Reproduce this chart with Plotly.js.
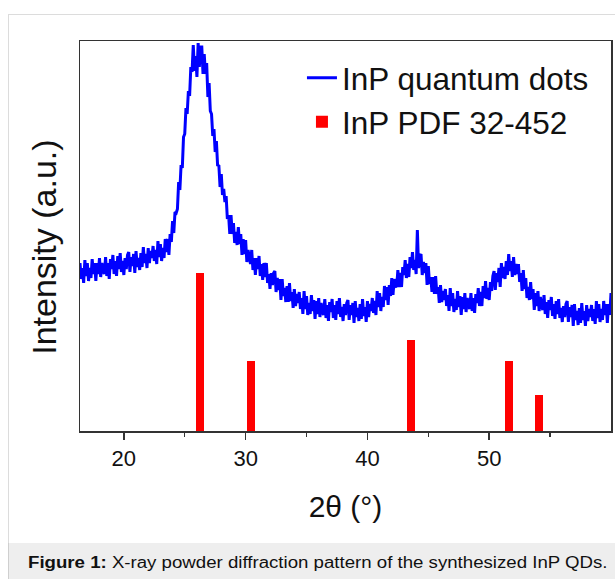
<!DOCTYPE html>
<html>
<head>
<meta charset="utf-8">
<script src="https://cdn.plot.ly/plotly-3.0.1.min.js"></script>
<style>
  html, body { margin: 0; padding: 0; background: #ffffff; width: 615px; height: 579px; overflow: hidden; }
  #frame { position: absolute; left: 8px; top: 14px; width: 640px; height: 620px; border: 1px solid #dcdcdc; box-sizing: border-box; }
  #caption { position: absolute; left: 8px; top: 543px; width: 640px; height: 60px; background: #eeeeee; border-left: 1px solid #cfcfcf; box-sizing: border-box; }
  #captext { position: absolute; left: 19px; top: 11px; font-family: "Liberation Sans", Arial, sans-serif; font-size: 16px; color: #111;
             white-space: nowrap; transform: scaleX(1.165); transform-origin: 0 0; }
  #chart { position: absolute; left: 0; top: 0; width: 615px; height: 579px; }
</style>
</head>
<body>
<div id="frame"></div>
<div id="caption"><div id="captext"><b>Figure 1:</b> X-ray powder diffraction pattern of the synthesized InP QDs.</div></div>
<div id="chart"></div>
<script>
// XRD scan: 2θ from 16.4° to 60.0° in 0.1° steps
const scanStart = 16.4;
const scanStep = 0.1;
const qdIntensity = [
  168,152,163,148,171,155,168,150,163,153,172,157,168,150,168,157,173,154,168,160,
  157,174,155,168,152,172,162,176,157,170,155,175,162,178,159,170,156,173,162,176,
  179,159,174,165,177,158,180,164,173,161,178,164,184,168,177,163,183,168,180,173,
  185,170,181,167,190,174,187,170,183,173,192,179,192,176,197,189,210,198,219,218,
  222,249,241,266,263,294,297,323,317,340,335,364,359,386,360,375,354,388,364,384,
  384,357,377,357,368,334,348,320,317,295,302,279,290,265,266,244,257,236,242,229,
  235,212,216,197,216,197,208,188,199,186,204,187,197,176,192,177,191,169,181,171,
  167,181,161,173,156,173,162,175,155,167,151,168,154,168,148,157,142,158,146,158,
  160,139,153,141,152,131,152,135,143,129,145,129,148,130,139,123,142,125,137,128,
  139,122,133,117,140,122,135,116,128,117,136,120,131,112,130,117,133,114,128,119,
  116,132,113,126,110,129,119,132,113,126,111,130,117,133,114,124,110,127,116,128,
  131,111,126,116,128,108,130,114,123,110,127,112,132,115,124,109,130,114,127,120,
  133,118,130,116,140,124,138,120,134,124,145,131,144,126,146,135,153,136,152,145,
  144,161,144,158,144,164,156,171,153,167,154,174,163,179,161,171,157,201,163,175,
  177,156,169,158,168,146,165,147,154,139,154,137,155,137,144,128,146,129,140,131,
  142,125,136,120,143,125,138,119,132,121,140,124,135,116,134,122,138,119,133,125,
  122,138,120,133,118,137,128,143,125,139,125,145,133,150,132,143,131,149,140,155,
  160,141,158,149,163,144,168,153,164,152,170,156,177,160,170,154,174,156,167,157,
  167,149,158,140,161,142,153,133,144,131,149,132,142,121,138,125,140,120,134,125,
  121,136,117,129,113,131,121,134,115,127,112,130,117,132,113,123,109,125,114,127,
  130,109,124,114,126,105,127,111,120,106,123,108,128,111,120,105,126,110,122,114,
  126,110,122,107,130,113,127,109,122,111,130,116,127,108,127,116,138
];
// Reference pattern InP PDF 32-452
const pdfPositions = [26.28, 30.44, 43.58, 51.63, 54.06];
const pdfIntensity = [158, 70, 91, 70, 36];
const xTickVals = [20, 30, 40, 50];
const xTickText = ["20", "30", "40", "50"];
const xMinorTicks = [25, 35, 45, 55];

const font = '"Liberation Sans", Arial, sans-serif';

const traces = [
  {
    type: 'scatter', mode: 'lines', name: 'InP quantum dots',
    x0: scanStart, dx: scanStep, y: qdIntensity,
    line: { color: '#0000ff', width: 3 }
  },
  {
    type: 'bar', name: 'InP PDF 32-452',
    x: pdfPositions, y: pdfIntensity, width: 0.65,
    marker: { color: '#ff0000', line: { width: 0 } }
  }
];

const layout = {
  width: 615, height: 579,
  margin: { l: 80, r: 4, t: 41, b: 148 },
  paper_bgcolor: 'rgba(0,0,0,0)',
  plot_bgcolor: '#ffffff',
  font: { family: font, color: '#111111' },
  showlegend: true,
  legend: {
    x: 0.418, y: 0.975, xanchor: 'left', yanchor: 'top',
    bgcolor: 'rgba(0,0,0,0)', borderwidth: 0,
    font: { family: font, size: 31.5, color: '#111111' },
    tracegroupgap: 0
  },
  xaxis: {
    range: [16.4, 60.0],
    tickmode: 'array', tickvals: xTickVals, ticktext: xTickText,
    ticks: 'outside', ticklen: 7, tickwidth: 1.5, tickcolor: '#333333',
    minor: { tickvals: xMinorTicks, ticks: 'outside', ticklen: 4, tickwidth: 1.5, tickcolor: '#333333', showgrid: false },
    tickfont: { family: font, size: 22, color: '#111111' },
    showline: true, mirror: true, linecolor: '#333333', linewidth: 1.5,
    showgrid: false, zeroline: false,
    title: { text: '2θ (°)', font: { family: font, size: 30, color: '#111111' }, standoff: 26 }
  },
  yaxis: {
    range: [0, 390],
    showticklabels: false, ticks: '',
    showline: true, mirror: true, linecolor: '#333333', linewidth: 1.5,
    showgrid: false, zeroline: false,
    title: { text: '' }
  },
  annotations: [
    {
      text: 'Intensity (a.u.)', textangle: -90, showarrow: false,
      xref: 'paper', yref: 'paper', x: -0.068, y: 0.472, xanchor: 'center', yanchor: 'middle',
      font: { family: font, size: 34, color: '#111111' }
    }
  ],
  bargap: 0
};

Plotly.newPlot('chart', traces, layout, { displayModeBar: false, staticPlot: true });
</script>
</body>
</html>
